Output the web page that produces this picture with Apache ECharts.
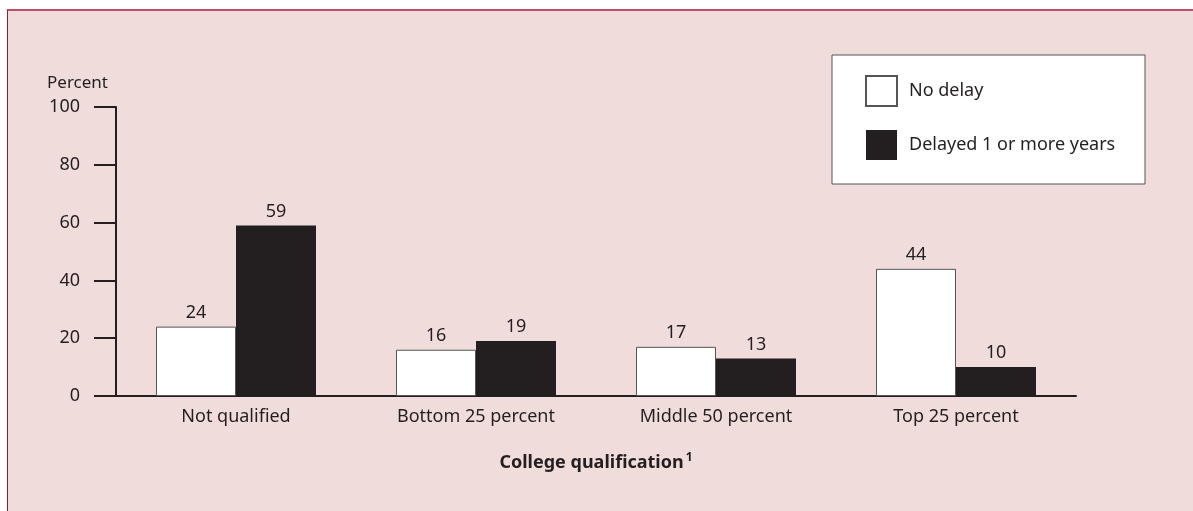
<!DOCTYPE html>
<html>
<head>
<meta charset="utf-8">
<script src="https://cdn.jsdelivr.net/npm/echarts@6/dist/echarts.min.js"></script>
<style>
html, body { margin: 0; padding: 0; background: #fff; }
#panel {
  position: absolute; left: 7px; top: 9px; right: 0; bottom: 0;
  background: #f0dcdb;
  border-top: 2px solid #c05068;
  border-left: 1px solid #8e1a3c;
}
#chart { position: absolute; left: 0; top: 0; width: 1193px; height: 511px; }
</style>
</head>
<body>
<div id="panel"></div>
<div id="chart"></div>
<script>
const categories = ['Not qualified', 'Bottom 25 percent', 'Middle 50 percent', 'Top 25 percent'];
const noDelay = [24, 16, 17, 44];
const delayed = [59, 19, 13, 10];
const yTicks = { min: 0, max: 100, interval: 20 };

const ink = '#231f20';
const font = 'Noto Sans';

const chart = echarts.init(document.getElementById('chart'));
chart.setOption({
  backgroundColor: 'transparent',
  textStyle: { fontFamily: font, color: ink },
  graphic: [{
    type: 'rect',
    shape: { x: 832, y: 55, width: 313, height: 129 },
    style: { fill: '#fff', stroke: '#555', lineWidth: 1 },
    z: 0
  }],
  legend: {
    orient: 'vertical',
    left: 865,
    top: 75,
    padding: 0,
    itemWidth: 31,
    itemHeight: 30,
    itemGap: 23,
    icon: 'rect',
    textStyle: { fontFamily: font, fontSize: 18, color: ink, padding: [0, 0, 0, 7] },
    data: ['No delay', 'Delayed 1 or more years']
  },
  grid: { left: 116, right: 117, top: 107, bottom: 115 },
  xAxis: {
    type: 'category',
    data: categories,
    axisTick: { show: false },
    axisLine: { lineStyle: { color: ink, width: 2 } },
    axisLabel: { fontFamily: font, fontSize: 18, color: ink, margin: 12 },
    name: '{b|College qualification}{s|1}',
    nameLocation: 'middle',
    nameGap: 56,
    nameTextStyle: {
      rich: {
        b: { fontFamily: font, fontSize: 18, fontWeight: 'bold', color: ink },
        s: { fontFamily: font, fontSize: 12, fontWeight: 'bold', color: ink, verticalAlign: 'top', padding: [0, 0, 9, 2] }
      }
    }
  },
  yAxis: {
    type: 'value',
    min: yTicks.min,
    max: yTicks.max,
    interval: yTicks.interval,
    splitLine: { show: false },
    axisLine: { show: true, lineStyle: { color: ink, width: 2 } },
    axisTick: { show: true, length: 22, lineStyle: { color: ink, width: 2 } },
    axisLabel: { fontFamily: font, fontSize: 18, color: ink, margin: 36 },
    name: 'Percent',
    nameLocation: 'end',
    nameGap: 15,
    nameTextStyle: { fontFamily: font, fontSize: 17, color: ink, align: 'right', padding: [0, 8, 0, 0] }
  },
  series: [{
    name: 'No delay',
    type: 'bar',
    data: noDelay,
    barWidth: 80,
    barGap: '0%',
    itemStyle: { color: '#fff', borderColor: '#555', borderWidth: 1 },
    label: { show: true, position: 'top', distance: 5, fontFamily: font, fontSize: 18, color: ink }
  }, {
    name: 'Delayed 1 or more years',
    type: 'bar',
    data: delayed,
    barWidth: 80,
    itemStyle: { color: ink },
    label: { show: true, position: 'top', distance: 5, fontFamily: font, fontSize: 18, color: ink }
  }]
});
</script>
</body>
</html>
